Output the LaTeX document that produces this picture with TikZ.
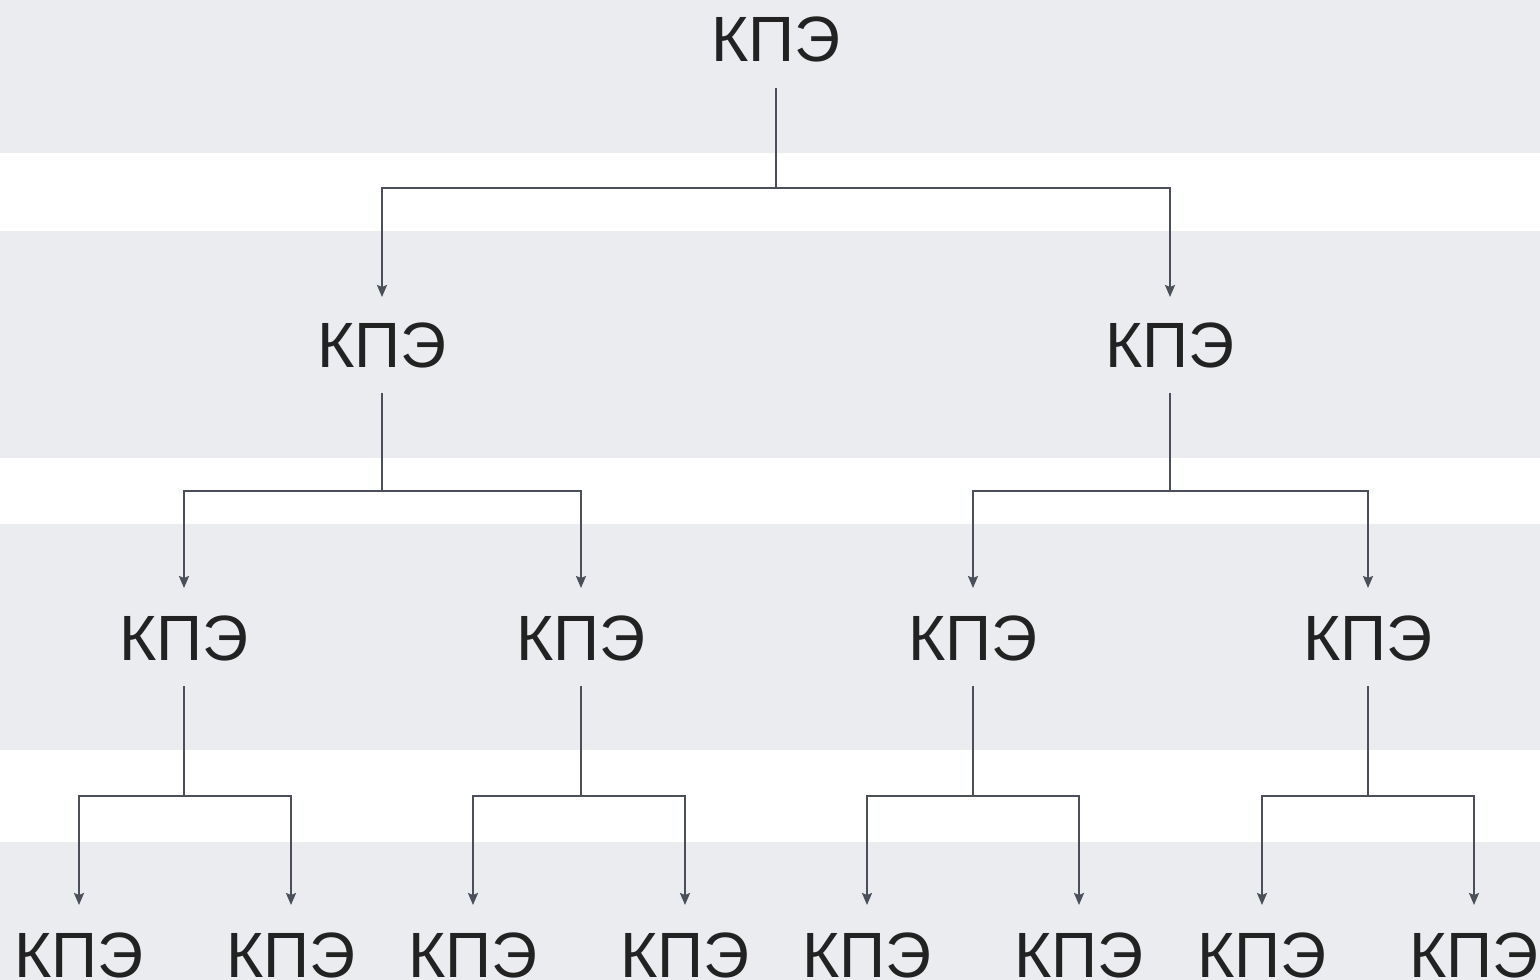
\documentclass[tikz,border=0pt]{standalone}
\usepackage{fontspec}
\setmainfont{Liberation Sans}
\usetikzlibrary{arrows.meta}
\definecolor{band}{HTML}{EBECF0}
\definecolor{conn}{HTML}{4A4F5A}
\definecolor{txt}{HTML}{222222}
\begin{document}
\begin{tikzpicture}[x=1pt,y=-1pt,
  kpe/.style={anchor=base, inner sep=0pt, text=txt, font=\fontsize{64}{64}\selectfont},
  link/.style={draw=conn, line width=2pt},
  arr/.style={link, -{Stealth[length=12pt,width=10pt,inset=2pt]}}]
\useasboundingbox (0,0) rectangle (1540,980);
\fill[white] (0,0) rectangle (1540,980);
\fill[band] (0,0) rectangle (1540,153);
\fill[band] (0,231) rectangle (1540,458);
\fill[band] (0,524) rectangle (1540,750);
\fill[band] (0,842) rectangle (1540,980);
% nodes
\node[kpe] (n0) at (776,61) {КПЭ};
\node[kpe] (n1) at (382,367) {КПЭ};
\node[kpe] (n2) at (1170,367) {КПЭ};
\node[kpe] (n11) at (184,660) {КПЭ};
\node[kpe] (n12) at (581,660) {КПЭ};
\node[kpe] (n21) at (973,660) {КПЭ};
\node[kpe] (n22) at (1368,660) {КПЭ};
\node[kpe] (m1) at (79,977) {КПЭ};
\node[kpe] (m2) at (291,977) {КПЭ};
\node[kpe] (m3) at (473,977) {КПЭ};
\node[kpe] (m4) at (685,977) {КПЭ};
\node[kpe] (m5) at (867,977) {КПЭ};
\node[kpe] (m6) at (1079,977) {КПЭ};
\node[kpe] (m7) at (1262,977) {КПЭ};
\node[kpe] (m8) at (1474,977) {КПЭ};
% junctions
\coordinate (j0) at (776,188);
\coordinate (j1) at (382,491);
\coordinate (j2) at (1170,491);
\coordinate (j11) at (184,796);
\coordinate (j12) at (581,796);
\coordinate (j21) at (973,796);
\coordinate (j22) at (1368,796);
% connectors
\draw[link] (n0.base) ++(0,27) -- (j0);
\draw[arr] (j0) -| (n1.base |- 0,297);
\draw[arr] (j0) -| (n2.base |- 0,297);
\draw[link] (n1.base) ++(0,26) -- (j1);
\draw[link] (n2.base) ++(0,26) -- (j2);
\draw[arr] (j1) -| (n11.base |- 0,588);
\draw[arr] (j1) -| (n12.base |- 0,588);
\draw[arr] (j2) -| (n21.base |- 0,588);
\draw[arr] (j2) -| (n22.base |- 0,588);
\draw[link] (n11.base) ++(0,26) -- (j11);
\draw[link] (n12.base) ++(0,26) -- (j12);
\draw[link] (n21.base) ++(0,26) -- (j21);
\draw[link] (n22.base) ++(0,26) -- (j22);
\draw[arr] (j11) -| (m1.base |- 0,905);
\draw[arr] (j11) -| (m2.base |- 0,905);
\draw[arr] (j12) -| (m3.base |- 0,905);
\draw[arr] (j12) -| (m4.base |- 0,905);
\draw[arr] (j21) -| (m5.base |- 0,905);
\draw[arr] (j21) -| (m6.base |- 0,905);
\draw[arr] (j22) -| (m7.base |- 0,905);
\draw[arr] (j22) -| (m8.base |- 0,905);
\end{tikzpicture}
\end{document}
